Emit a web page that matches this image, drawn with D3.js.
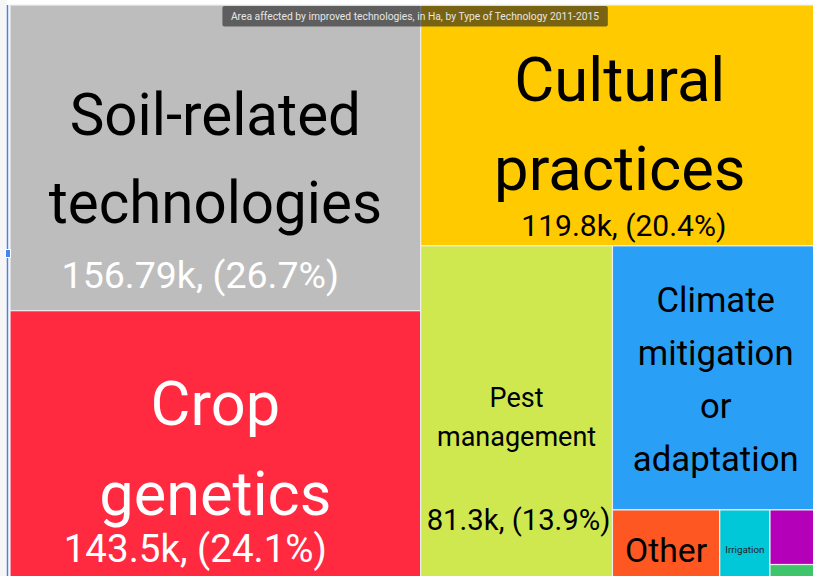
<!DOCTYPE html>
<html>
<head>
<meta charset="utf-8">
<script src="https://cdn.jsdelivr.net/npm/d3@7"></script>
<style>
html, body { margin: 0; padding: 0; background: #fff; overflow: hidden; }
svg { display: block; font-family: Roboto, "Noto Sans", sans-serif; }
</style>
</head>
<body>
<svg width="813" height="576"></svg>
<script>
var title = "Area affected by improved technologies, in Ha, by Type of Technology 2011-2015";

var categories = ["Soil-related technologies", "Crop genetics", "Cultural practices",
  "Pest management", "Climate mitigation or adaptation", "Other", "Irrigation",
  "Unlabelled 1", "Unlabelled 2"];

// share of total area, in percent
var shares = [26.7, 24.1, 20.4, 13.9, 11.6, 1.75, 0.82, 0.57, 0.23];

var amounts = ["156.79k", "143.5k", "119.8k", "81.3k", null, null, null, null, null];

var labelLines = [
  ["Soil-related", "technologies"],
  ["Crop", "genetics"],
  ["Cultural", "practices"],
  ["Pest", "management"],
  ["Climate", "mitigation", "or", "adaptation"],
  ["Other"],
  ["Irrigation"],
  [],
  []
];

var colors = ["#bdbdbd", "#ff2a40", "#ffca00", "#cfe84f", "#2a9ff6",
  "#ff5722", "#00c8d9", "#b400b9", "#3ec56b"];

// label look for each cell: font size, line step, first baseline below cell top,
// value font size, value baseline below cell top, value shift
var labelStyle = [
  {size: 58.3, step: 88, top: 130, color: "#000", vSize: 37.5, vTop: 283, vDx: -15, vColor: "#fff"},
  {size: 61.3, step: 90, top: 114, color: "#fff", vSize: 38.5, vTop: 251, vDx: -20, vColor: "#fff"},
  {size: 61.5, step: 89, top: 96, color: "#000", vSize: 30, vTop: 231, vDx: 4, vColor: "#000"},
  {size: 27, step: 39, top: 161, color: "#000", vSize: 29.3, vTop: 284, vDx: 2, vColor: "#000"},
  {size: 34.7, step: 53, top: 66, color: "#000"},
  {size: 33.7, step: 0, top: 52, color: "#000"},
  {size: 9.8, step: 0, top: 43, color: "#222"},
  {size: 0, step: 0, top: 0},
  {size: 0, step: 0, top: 0}
];

var padLeft = 10, padTop = 5;
var width = 809, height = 581.6;

var svg = d3.select('svg');

// page edge left of the chart
svg.append('rect')
  .attr('x', 0).attr('y', 0).attr('width', 7).attr('height', 576)
  .attr('fill', '#f6f6f6');

var rows = categories.map(function(c, i) {
  return {name: c, share: shares[i], amount: amounts[i], lines: labelLines[i], color: colors[i], style: labelStyle[i]};
});

var root = d3.hierarchy({children: rows}).sum(function(d) { return d.share || 0; });

d3.treemap()
  .tile(d3.treemapBinary)
  .size([width, height])(root);

var chart = svg.append('g').attr('transform', 'translate(' + padLeft + ',' + padTop + ')');

var cell = chart.selectAll('.cell')
    .data(root.leaves())
  .enter().append('g')
    .attr('class', 'cell');

cell.append('rect')
  .attr('x', function(d) { return d.x0; })
  .attr('y', function(d) { return d.y0; })
  .attr('width', function(d) { return d.x1 - d.x0; })
  .attr('height', function(d) { return d.y1 - d.y0; })
  .attr('fill', function(d) { return d.data.color; })
  .attr('stroke', '#eeeeee')
  .attr('stroke-width', 1.2);

cell.each(function(d) {
  var g = d3.select(this);
  var st = d.data.style;
  var cx = (d.x0 + d.x1) / 2;

  d.data.lines.forEach(function(line, k) {
    g.append('text')
      .attr('x', cx)
      .attr('y', d.y0 + st.top + k * st.step)
      .attr('text-anchor', 'middle')
      .attr('font-size', st.size)
      .attr('fill', st.color)
      .text(line);
  });

  if (d.data.amount) {
    g.append('text')
      .attr('x', cx + st.vDx)
      .attr('y', d.y0 + st.vTop)
      .attr('text-anchor', 'middle')
      .attr('font-size', st.vSize)
      .attr('fill', st.vColor)
      .text(d.data.amount + ', (' + d.data.share.toFixed(1) + '%)');
  }
});

// title box
var tb = svg.append('g');
var tt = tb.append('text')
  .attr('x', 415)
  .attr('y', 19.8)
  .attr('text-anchor', 'middle')
  .attr('font-size', 10.3)
  .attr('fill', '#e6e6e6')
  .text(title);
var bb = tt.node().getBBox();
tb.insert('rect', 'text')
  .attr('x', bb.x - 8.5)
  .attr('y', 6)
  .attr('width', bb.width + 17)
  .attr('height', 20.5)
  .attr('rx', 2)
  .attr('fill', 'rgba(30,30,30,0.6)');

// selection line on the left edge
svg.append('line')
  .attr('x1', 7.5).attr('x2', 7.5)
  .attr('y1', 5).attr('y2', 576)
  .attr('stroke', '#4a80e8')
  .attr('stroke-width', 1.5);
svg.append('rect')
  .attr('x', 5.5).attr('y', 249.5)
  .attr('width', 5).attr('height', 8)
  .attr('fill', '#4285f4')
  .attr('stroke', '#ffffff')
  .attr('stroke-width', 1);
</script>
</body>
</html>
